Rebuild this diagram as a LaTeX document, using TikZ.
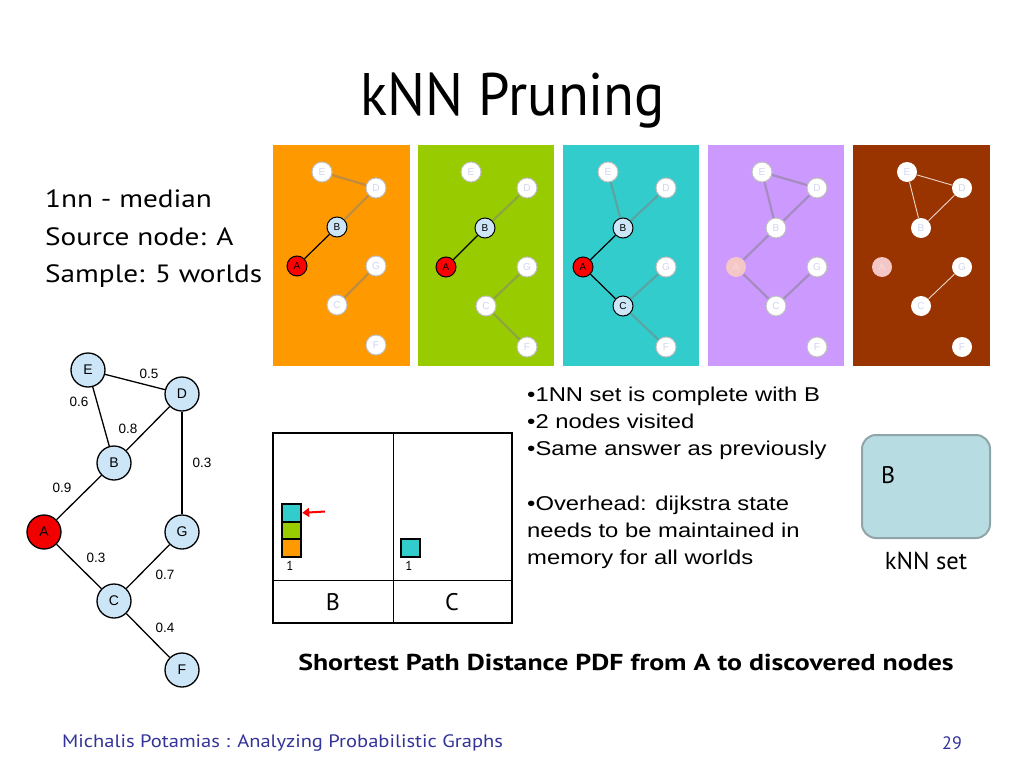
\documentclass[tikz,border=0pt]{standalone}
\usepackage{fontspec}
\setmainfont{PT Sans}
\newfontfamily\arialf{Liberation Sans}
\newfontfamily\arialwide[FakeStretch=1.19]{Liberation Sans}
\newfontfamily\ptleft[FakeStretch=1.17]{PT Sans}
\newfontfamily\ptcap[FakeStretch=1.21]{PT Sans}
\newfontfamily\ptfoot[FakeStretch=1.14]{PT Sans}
\newfontfamily\pttitle[FakeStretch=0.94]{PT Sans}
\usetikzlibrary{arrows.meta}
\definecolor{nodeblue}{HTML}{CCE6F7}
\definecolor{orangeP}{HTML}{FF9900}
\definecolor{greenP}{HTML}{99CC00}
\definecolor{tealP}{HTML}{33CCCC}
\definecolor{purpleP}{HTML}{CC99FF}
\definecolor{brownP}{HTML}{993300}
\definecolor{fadetext}{HTML}{D0D6EE}
\definecolor{fadepink}{HTML}{F4C6C6}
\definecolor{fadepinktext}{HTML}{F8DADA}
\definecolor{boxfill}{HTML}{B7DDE3}
\definecolor{boxborder}{HTML}{8FA5A8}
\definecolor{footblue}{HTML}{333399}
\tikzset{
  gn/.style={circle, draw=black, line width=1.3pt, fill=nodeblue, minimum size=34pt, inner sep=0pt, font=\arialf\fontsize{14}{14}\selectfont},
  gred/.style={gn, fill=red!95!black},
  elab/.style={font=\arialf\fontsize{13.5}{14}\selectfont, inner sep=0pt},
  gedge/.style={line width=1.3pt, draw=black},
  pn/.style={circle, draw=black, line width=1pt, fill=nodeblue, minimum size=20pt, inner sep=0pt, font=\arialf\fontsize{10}{10}\selectfont},
  pred/.style={pn, fill=red},
  pf/.style={pn, draw=black!25, fill=white, text=fadetext},
  pa/.style={pn, draw=none, fill=fadepink, text=fadepinktext},
  aedge/.style={line width=1.2pt, draw=black},
  fedge/.style={line width=2.2pt, draw=gray, draw opacity=0.5},
  wedge/.style={line width=0.9pt, draw=white!80!brownP},
  sq/.style={rectangle, draw=black, line width=2.2pt, minimum width=19pt, minimum height=17.5pt, inner sep=0pt, anchor=north west},
  small/.style={font=\fontsize{13}{13}\selectfont, inner sep=0pt},
  bul/.style={font=\arialwide\fontsize{20}{22}\selectfont, inner sep=0pt, anchor=base west},
  lefttxt/.style={font=\ptleft\fontsize{25}{30}\selectfont, inner sep=0pt, anchor=base west},
}
\begin{document}
\begin{tikzpicture}[x=1pt,y=-1pt]
\useasboundingbox (0,0) rectangle (1024,768);
\fill[white] (0,0) rectangle (1024,768);

% title
\node[font=\pttitle\fontsize{60}{70}\selectfont, inner sep=0pt, anchor=base] (title) at (513,115) {kNN Pruning};

% left text
\node[lefttxt] (t1) at (45,207) {1nn - median};
\node[lefttxt] (t2) at (45,245) {Source node: A};
\node[lefttxt] (t3) at (45,282) {Sample: 5 worlds};

% panels
\fill[orangeP] (273,145) rectangle (410,366);
\fill[greenP] (418,145) rectangle (554,366);
\fill[tealP] (563,145) rectangle (699,366);
\fill[purpleP] (708,145) rectangle (844,366);
\fill[brownP] (853,145) rectangle (990,366);

% panel 1
\node[pf] (p1E) at (322,172) {E};
\node[pf] (p1D) at (376,188) {D};
\node[pn] (p1B) at (337,227) {B};
\node[pred] (p1A) at (297,266) {A};
\node[pf] (p1G) at (376,266) {G};
\node[pf] (p1C) at (337,305) {C};
\node[pf] (p1F) at (376,345) {F};
\draw[fedge] (p1E) -- (p1D);
\draw[fedge] (p1D) -- (p1B);
\draw[aedge] (p1A) -- (p1B);
\draw[fedge] (p1G) -- (p1C);

% panel 2
\node[pf] (p2E) at (471,172) {E};
\node[pf] (p2D) at (527,188) {D};
\node[pn] (p2B) at (485,228) {B};
\node[pred] (p2A) at (446,267) {A};
\node[pf] (p2G) at (527,267) {G};
\node[pf] (p2C) at (486,306) {C};
\node[pf] (p2F) at (527,347) {F};
\draw[fedge] (p2D) -- (p2B);
\draw[aedge] (p2A) -- (p2B);
\draw[fedge] (p2G) -- (p2C);
\draw[fedge] (p2C) -- (p2F);

% panel 3
\node[pf] (p3E) at (608,172) {E};
\node[pf] (p3D) at (666,188) {D};
\node[pn] (p3B) at (623,228) {B};
\node[pred] (p3A) at (583,267) {A};
\node[pf] (p3G) at (666,267) {G};
\node[pn] (p3C) at (623,306) {C};
\node[pf] (p3F) at (666,347) {F};
\draw[fedge] (p3E) -- (p3B);
\draw[fedge] (p3D) -- (p3B);
\draw[aedge] (p3A) -- (p3B);
\draw[aedge] (p3A) -- (p3C);
\draw[fedge] (p3G) -- (p3C);
\draw[fedge] (p3C) -- (p3F);

% panel 4
\node[pf] (p4E) at (762,172) {E};
\node[pf] (p4D) at (817,188) {D};
\node[pf] (p4B) at (776,228) {B};
\node[pa] (p4A) at (736,267) {A};
\node[pf] (p4G) at (817,267) {G};
\node[pf] (p4C) at (776,306) {C};
\node[pf] (p4F) at (817,347) {F};
\draw[fedge] (p4E) -- (p4D);
\draw[fedge] (p4E) -- (p4B);
\draw[fedge] (p4D) -- (p4B);
\draw[fedge] (p4A) -- (p4B);
\draw[fedge] (p4A) -- (p4C);
\draw[fedge] (p4G) -- (p4C);

% panel 5
\node[pf, draw=none] (p5E) at (907,172) {E};
\node[pf, draw=none] (p5D) at (962,188) {D};
\node[pf, draw=none] (p5B) at (921,228) {B};
\node[pa] (p5A) at (882,267) {A};
\node[pf, draw=none] (p5G) at (962,267) {G};
\node[pf, draw=none] (p5C) at (921,306) {C};
\node[pf, draw=none] (p5F) at (962,347) {F};
\draw[wedge] (p5E) -- (p5D);
\draw[wedge] (p5E) -- (p5B);
\draw[wedge] (p5D) -- (p5B);
\draw[wedge] (p5G) -- (p5C);

% main graph
\node[gn] (E) at (88,370) {E};
\node[gn] (D) at (182,394) {D};
\node[gn] (B) at (114,463) {B};
\node[gred] (A) at (44,532) {A};
\node[gn] (G) at (182,532) {G};
\node[gn] (C) at (114,601) {C};
\node[gn] (F) at (182,670) {F};
\draw[gedge] (E) -- (D);
\draw[gedge] (E) -- (B);
\draw[gedge] (D) -- (B);
\draw[gedge] (D) -- (G);
\draw[gedge] (A) -- (B);
\draw[gedge] (A) -- (C);
\draw[gedge] (C) -- (G);
\draw[gedge] (C) -- (F);
\node[elab] (l1) at (149,374) {0.5};
\node[elab] (l2) at (79,402) {0.6};
\node[elab] (l3) at (128,429) {0.8};
\node[elab] (l4) at (202,463) {0.3};
\node[elab] (l5) at (62,488) {0.9};
\node[elab] (l6) at (96,558) {0.3};
\node[elab] (l7) at (165,575) {0.7};
\node[elab] (l8) at (165,628) {0.4};

% histogram
\draw[line width=2.5pt] (273,433) rectangle (512,623);
\draw[line width=1pt] (393,433) -- (393,623);
\draw[line width=1pt] (273,580) -- (512,580);
\node[sq, fill=tealP] (s1) at (281,503) {};
\node[sq, fill=greenP] (s2) at (281,520.5) {};
\node[sq, fill=orangeP] (s3) at (281,538) {};
\node[sq, fill=tealP] (c1) at (400,538) {};
\node[small] (n1) at (290,566) {1};
\node[small] (n2) at (409,566) {1};
\coordinate (arrs) at (325,511.5);
\draw[red, line width=2pt, -{Triangle[length=7pt,width=9pt]}] (arrs) -- (s1.east);
\node[font=\fontsize{24}{24}\selectfont, inner sep=0pt] (hb) at (333,602) {B};
\node[font=\fontsize{24}{24}\selectfont, inner sep=0pt] (hc) at (452,602) {C};

% bullets
\node[bul] (b1) at (527,401) {•1NN set is complete with B};
\node[bul] (b2) at (527,428) {•2 nodes visited};
\node[bul] (b3) at (527,455) {•Same answer as previously};
\node[bul] (b4) at (527,510) {•Overhead: dijkstra state};
\node[bul] (b5) at (527,537) {needs to be maintained in};
\node[bul] (b6) at (527,564) {memory for all worlds};

% kNN set box
\node[draw=boxborder, line width=2pt, fill=boxfill, rounded corners=14pt, minimum width=128pt, minimum height=103pt, inner sep=0pt] (knn) at (926,486.5) {};
\node[font=\fontsize{24}{24}\selectfont, inner sep=0pt] (kb) at (888,475) {B};
\node[font=\fontsize{24.5}{24}\selectfont, inner sep=0pt] (kl) at (926,561) {kNN set};

% caption
\node[font=\ptcap\bfseries\fontsize{23}{23}\selectfont, inner sep=0pt] (cap) at (626,662) {Shortest Path Distance PDF from A to discovered nodes};

% footer
\node[font=\ptfoot\fontsize{18}{18}\selectfont, text=footblue, inner sep=0pt, anchor=west] (foot) at (62,743) {Michalis Potamias : Analyzing Probabilistic Graphs};
\node[font=\fontsize{18}{18}\selectfont, text=footblue, inner sep=0pt] (pg) at (952,743) {29};
\end{tikzpicture}
\end{document}
